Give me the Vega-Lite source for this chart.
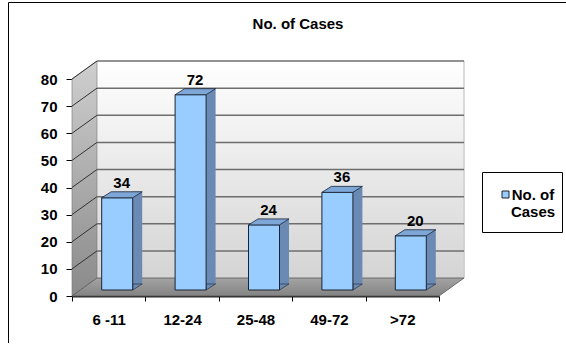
{
  "$schema": "https://vega.github.io/schema/vega-lite/v6.json",
  "width": 580,
  "height": 341,
  "autosize": {"type": "none"},
  "padding": {"left": 8, "top": 2, "right": 0, "bottom": 0},
  "background": "white",
  "config": {"view": {"stroke": "#000", "strokeWidth": 1}, "font": "Liberation Sans"},
  "title": {"text": "No. of Cases", "fontSize": 15, "fontWeight": "bold", "color": "#000", "offset": -30},
  "datasets": {
    "cases": [
      {"age": "6 -11", "cases": 34},
      {"age": "12-24", "cases": 72},
      {"age": "25-48", "cases": 24},
      {"age": "49-72", "cases": 36},
      {"age": ">72", "cases": 20}
    ],
    "grid": [{"v": 10}, {"v": 20}, {"v": 30}, {"v": 40}, {"v": 50}, {"v": 60}, {"v": 70}, {"v": 80}]
  },
  "data": {"name": "cases"},
  "layer": [
    {
      "mark": {"type": "bar", "xOffset": 25, "yOffset": -18, "y2Offset": -18, "width": {"band": 1.02},
        "fill": {"gradient": "linear", "x1": 0, "y1": 0, "x2": 0, "y2": 1, "stops": [{"offset": 0, "color": "#ffffff"}, {"offset": 1, "color": "#d4d4d4"}]}},
      "encoding": {
        "x": {"field": "age", "type": "nominal",
          "scale": {"type": "band", "domain": ["6 -11", "12-24", "25-48", "49-72", ">72"], "range": [64, 431], "paddingInner": 0, "paddingOuter": 0},
          "axis": {"title": null, "offset": -47, "tickBand": "extent", "tickSize": 5, "tickColor": "#000", "domainColor": "#222", "domainWidth": 2, "labelAngle": 0, "labelFontSize": 15, "labelFontWeight": "bold", "labelColor": "#000", "labelPadding": 11, "grid": false}},
        "y": {"datum": 80, "type": "quantitative",
          "scale": {"domain": [0, 80], "range": [294, 77], "nice": false, "zero": true},
          "axis": {"title": null, "offset": -64, "values": [0, 10, 20, 30, 40, 50, 60, 70, 80], "tickSize": 6, "tickColor": "#000", "domainColor": "#000", "labelFontSize": 15, "labelFontWeight": "bold", "labelColor": "#000", "labelPadding": 9, "grid": false}},
        "y2": {"datum": 0}
      }
    },
    {
      "transform": [{"filter": "datum.age == '>72'"}],
      "mark": {"type": "point", "shape": "M 61.7 -18 L 61.7 -235", "size": 4, "filled": false, "opacity": 1, "stroke": "#cfcfcf", "strokeWidth": 1.5},
      "encoding": {"x": {"field": "age", "type": "nominal"}, "y": {"datum": 0, "type": "quantitative"}}
    },
    {
      "transform": [{"filter": "datum.age == '6 -11'"}],
      "mark": {"type": "point", "shape": "M -36.7 0 L -36.7 -217 L -11.7 -235 L -11.7 -18 Z", "size": 4, "filled": true, "opacity": 1,
        "fill": {"gradient": "linear", "x1": 0, "y1": 0, "x2": 0, "y2": 1, "stops": [{"offset": 0, "color": "#cfcfcf"}, {"offset": 1, "color": "#8a8a8a"}]},
        "stroke": "#777", "strokeWidth": 0.6},
      "encoding": {"x": {"field": "age", "type": "nominal"}, "y": {"datum": 0, "type": "quantitative"}}
    },
    {
      "data": {"name": "grid"},
      "mark": {"type": "point", "shape": "M -158.5 -18 L 208.5 -18", "size": 4, "filled": false, "opacity": 1, "stroke": "#6e6e6e", "strokeWidth": 1.5},
      "encoding": {"x": {"datum": "25-48", "type": "nominal"}, "y": {"field": "v", "type": "quantitative"}}
    },
    {
      "data": {"name": "grid"},
      "mark": {"type": "point", "shape": "M -36.7 0 L -11.7 -18", "size": 4, "filled": false, "opacity": 1, "stroke": "#333", "strokeWidth": 1},
      "encoding": {"x": {"datum": "6 -11", "type": "nominal"}, "y": {"field": "v", "type": "quantitative"}}
    },
    {
      "transform": [{"filter": "datum.age == '25-48'"}],
      "mark": {"type": "point", "shape": "M -183.5 0 L 183.5 0 L 208.5 -18 L -158.5 -18 Z", "size": 4, "filled": true, "opacity": 1,
        "fill": {"gradient": "linear", "x1": 0, "y1": 0, "x2": 0, "y2": 1, "stops": [{"offset": 0, "color": "#a4a4a4"}, {"offset": 1, "color": "#838383"}]},
        "stroke": "#555", "strokeWidth": 0.8},
      "encoding": {"x": {"field": "age", "type": "nominal"}, "y": {"datum": 0, "type": "quantitative"}}
    },
    {
      "mark": {"type": "bar", "size": 9.5, "xOffset": 28.75, "yOffset": -12, "y2Offset": -12, "fill": "#6a8ab4", "stroke": null},
      "encoding": {"x": {"field": "age", "type": "nominal"}, "y": {"field": "cases", "type": "quantitative"}}
    },
    {
      "mark": {"type": "point", "shape": "M 24 -12 L 24 -6 L 33.5 -12 Z", "size": 4, "filled": true, "opacity": 1, "fill": "#6a8ab4", "stroke": "#1b2433", "strokeWidth": 0.6},
      "encoding": {"x": {"field": "age", "type": "nominal"}, "y": {"datum": 0, "type": "quantitative"}}
    },
    {
      "mark": {"type": "bar", "size": 31, "xOffset": 8.5, "yOffset": -6, "y2Offset": -6, "stroke": "#1b2433", "strokeWidth": 1},
      "encoding": {
        "x": {"field": "age", "type": "nominal"},
        "y": {"field": "cases", "type": "quantitative"},
        "color": {"datum": "No. of Cases", "type": "nominal", "scale": {"range": ["#99ccff"]},
          "legend": {"orient": "none", "legendX": 474, "legendY": 170, "title": " ", "titleOrient": "bottom", "titleFontSize": 5, "titlePadding": 1, "clipHeight": 33, "symbolType": "square", "symbolSize": 49, "symbolStrokeColor": "#222", "symbolStrokeWidth": 1, "labelFontSize": 15, "labelFontWeight": "bold", "labelColor": "#000", "labelExpr": "[slice(datum.label, 0, 6), slice(datum.label, 7)]", "labelAlign": "center", "labelOffset": 20, "labelLineHeight": 19, "symbolOffset": 10, "padding": 6, "strokeColor": "#000", "fillColor": "#fff"}}
      }
    },
    {
      "mark": {"type": "point", "shape": "M -7 -6 L 24 -6 L 33.5 -12 L 2.5 -12 Z", "size": 4, "filled": true, "opacity": 1, "fill": "#7ea7d8", "stroke": "#1b2433", "strokeWidth": 0.8},
      "encoding": {"x": {"field": "age", "type": "nominal"}, "y": {"field": "cases", "type": "quantitative"}}
    },
    {
      "mark": {"type": "text", "dx": 13, "dy": -16, "baseline": "alphabetic", "align": "center", "fontSize": 15, "fontWeight": "bold", "color": "#000"},
      "encoding": {"x": {"field": "age", "type": "nominal"}, "y": {"field": "cases", "type": "quantitative"}, "text": {"field": "cases", "type": "quantitative"}}
    }
  ]
}
